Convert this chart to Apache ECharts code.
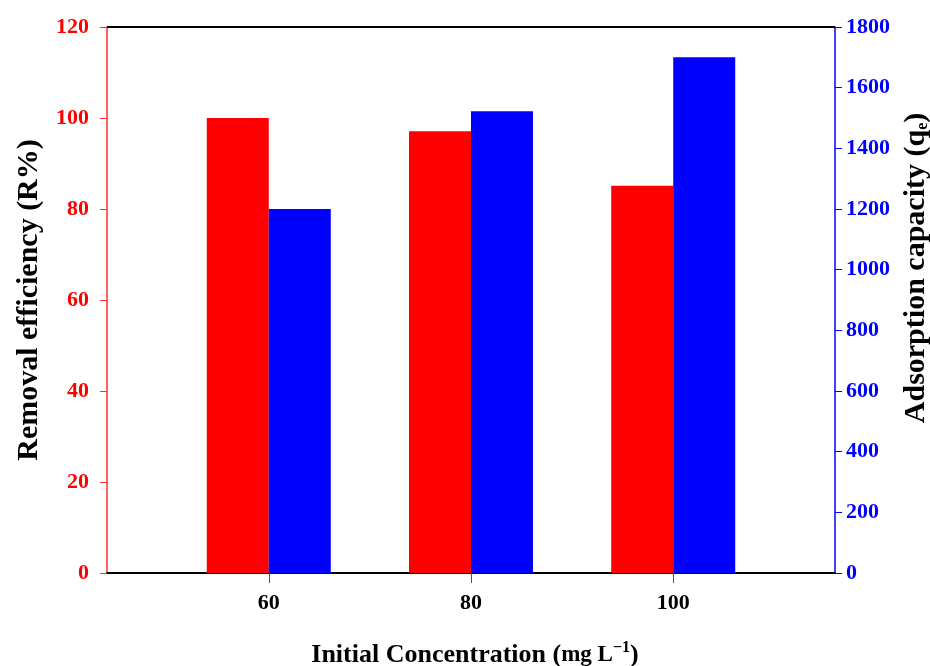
<!DOCTYPE html>
<html><head><meta charset="utf-8">
<script src="https://cdn.jsdelivr.net/npm/echarts@6/dist/echarts.min.js"></script>
<style>html,body{margin:0;padding:0;background:#fff}#c{width:930px;height:666px}</style>
</head><body><div id="c"></div>
<script>
const concentrations = [60, 80, 100];
const removalEfficiency = [100, 97.1, 85.1];
const adsorptionCapacity = [1200, 1522, 1700];
const xTicks = [60, 80, 100];

(function () {
const font = '"Liberation Serif", "Times New Roman", serif';
const chart = echarts.init(document.getElementById('c'));
chart.setOption({
  animation: false,
  grid: {left: 107, right: 95, top: 27, bottom: 93, containLabel: false, outerBoundsMode: 'none'},
  xAxis: {
    type: 'value', min: 44, max: 116,
    splitLine: {show: false},
    axisLine: {show: true, onZero: false, lineStyle: {color: '#000', width: 2}},
    axisTick: {show: true, customValues: xTicks, length: 10, lineStyle: {color: '#555', width: 1}},
    axisLabel: {customValues: xTicks, color: '#000', fontFamily: font, fontWeight: 'bold', fontSize: 22, margin: 19},
    name: 'Initial Concentration ({m|mg L}{sup|−1}{p|)}', nameLocation: 'middle', nameGap: 67,
    nameTextStyle: {color: '#000', fontFamily: font, fontWeight: 'bold', fontSize: 26, padding: [0, 0, 0, 8],
      rich: {
        m: {fontSize: 23, fontFamily: font, fontWeight: 'bold', color: '#000'},
        p: {fontSize: 26, fontFamily: font, fontWeight: 'bold', color: '#000'},
        sup: {fontSize: 16, fontFamily: font, fontWeight: 'bold', color: '#000', verticalAlign: 'top', padding: [0, 0, 14, 0]}}}
  },
  yAxis: [{
    type: 'value', min: 0, max: 120, interval: 20, position: 'left',
    splitLine: {show: false},
    axisLine: {show: true, lineStyle: {color: '#ff3030', width: 1.5}},
    axisTick: {show: true, length: 7, lineStyle: {color: '#ff3030'}},
    axisLabel: {color: '#ff0000', fontFamily: font, fontWeight: 'bold', fontSize: 22, margin: 18},
    name: 'Removal efficiency (R%)', nameLocation: 'middle', nameRotate: 90, nameGap: 63,
    nameTextStyle: {color: '#000', fontFamily: font, fontWeight: 'bold', fontSize: 30}
  }, {
    type: 'value', min: 0, max: 1800, interval: 200, position: 'right',
    splitLine: {show: false},
    axisLine: {show: true, lineStyle: {color: '#0000ff', width: 1.5}},
    axisTick: {show: true, length: 7, lineStyle: {color: '#0000ff'}},
    axisLabel: {color: '#0000ff', fontFamily: font, fontWeight: 'bold', fontSize: 22, margin: 11, formatter: v => String(v)},
    name: 'Adsorption capacity (q{sub|e})', nameLocation: 'middle', nameRotate: 90, nameGap: 64,
    nameTextStyle: {color: '#000', fontFamily: font, fontWeight: 'bold', fontSize: 30, padding: [0, 0, 0, 64],
      rich: {sub: {fontSize: 16, fontFamily: font, fontWeight: 'bold', color: '#000', verticalAlign: 'bottom', padding: [14, 0, 0, 0]}}}
  }],
  series: [{
    type: 'bar', yAxisIndex: 0, barWidth: 62, barGap: '0%',
    itemStyle: {color: '#ff0000'},
    data: concentrations.map((c, i) => [c, removalEfficiency[i]])
  }, {
    type: 'bar', yAxisIndex: 1, barWidth: 62, barGap: '0%',
    itemStyle: {color: '#0000ff'},
    data: concentrations.map((c, i) => [c, adsorptionCapacity[i]])
  }]
});
const topY = chart.convertToPixel({yAxisIndex: 0}, 120);
const lx = chart.convertToPixel({xAxisIndex: 0}, 44);
const rx = chart.convertToPixel({xAxisIndex: 0}, 116);
chart.setOption({graphic: [{type: 'line', shape: {x1: lx, y1: topY, x2: rx, y2: topY}, style: {stroke: '#000', lineWidth: 2}, z: 10}]});
})();
</script></body></html>
